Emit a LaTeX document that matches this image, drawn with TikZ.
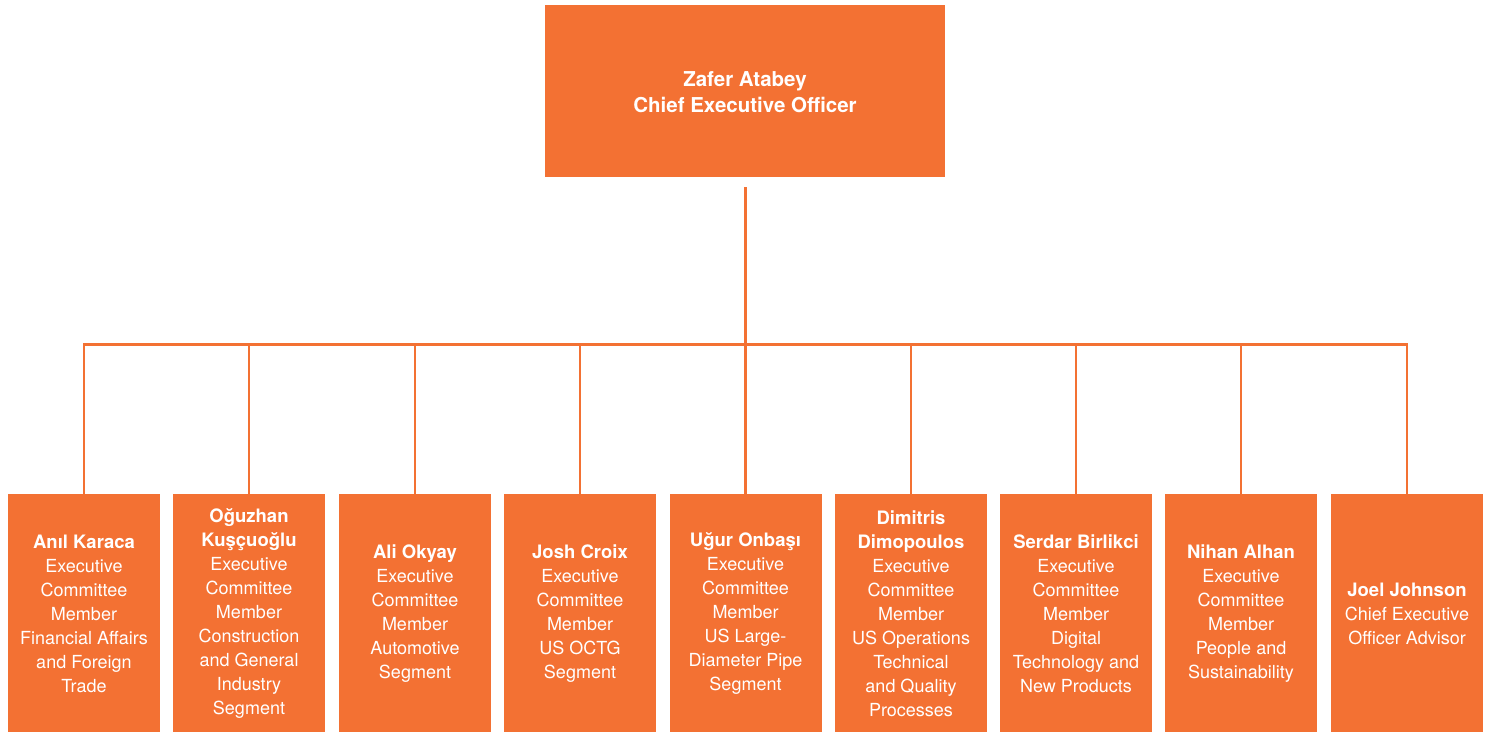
\documentclass[tikz,border=0pt]{standalone}
\usepackage{fontspec}
\setmainfont{TeX Gyre Heros}
\definecolor{org}{HTML}{F37133}
\newcommand\nm[1]{{\fontsize{18.5}{24}\selectfont\bfseries #1}}
\begin{document}
\begin{tikzpicture}[x=1pt,y=-1pt,
  member/.style={fill=org,draw=none,text=white,minimum width=152pt,minimum height=240pt,inner sep=0pt,align=center,font=\fontsize{18}{24}\selectfont},
  ceobox/.style={fill=org,draw=none,text=white,minimum width=400pt,minimum height=172pt,inner sep=0pt,align=center,font=\fontsize{20.5}{26}\selectfont\bfseries},
  link/.style={draw=org,line width=2.5pt}]
\useasboundingbox (0,0) rectangle (1491,731);
\fill[org] (545,5) rectangle (945,177);
\node[ceobox,fill=none] (ceo) at (745,92) {Zafer Atabey\\Chief Executive Officer};
\coordinate (top) at (745.5,187);
\coordinate (bus) at (745.5,344.5);
\node[member] (m1) at (84,614) {\nm{Anıl Karaca}\\Executive\\Committee\\Member\\Financial Affairs\\and Foreign\\Trade};
\node[member] (m2) at (249,614) {\nm{Oğuzhan}\\\nm{Kuşçuoğlu}\\Executive\\Committee\\Member\\Construction\\and General\\Industry\\Segment};
\node[member] (m3) at (415,614) {\nm{Ali Okyay}\\Executive\\Committee\\Member\\Automotive\\Segment};
\node[member] (m4) at (580,614) {\nm{Josh Croix}\\Executive\\Committee\\Member\\US OCTG\\Segment};
\node[member] (m5) at (745.5,614) {\nm{Uğur Onbaşı}\\Executive\\Committee\\Member\\US Large-\\Diameter Pipe\\Segment};
\node[member] (m6) at (911,614) {\nm{Dimitris}\\\nm{Dimopoulos}\\Executive\\Committee\\Member\\US Operations\\Technical\\and Quality\\Processes};
\node[member] (m7) at (1076,614) {\nm{Serdar Birlikci}\\Executive\\Committee\\Member\\Digital\\Technology and\\New Products};
\node[member] (m8) at (1241,614) {\nm{Nihan Alhan}\\Executive\\Committee\\Member\\People and\\Sustainability};
\node[member] (m9) at (1407,614) {\nm{Joel Johnson}\\Chief Executive\\Officer Advisor};
\draw[link] (top) -- (bus);
\foreach \i in {1,...,9}{
  \draw[link] (bus) -| (m\i.north);
}
\end{tikzpicture}
\end{document}
